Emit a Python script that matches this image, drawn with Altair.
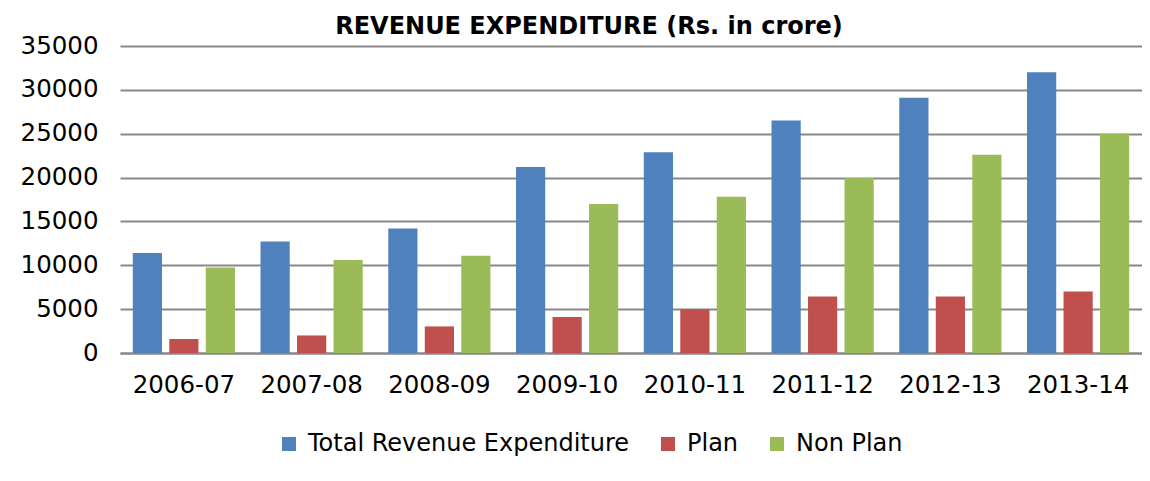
import altair as alt
import pandas as pd

years = ["2006-07", "2007-08", "2008-09", "2009-10", "2010-11", "2011-12", "2012-13", "2013-14"]
total = [11400, 12700, 14200, 21200, 22900, 26500, 29100, 32000]
plan = [1600, 2000, 3030, 4100, 5000, 6450, 6450, 7000]
nonplan = [9750, 10600, 11100, 17000, 17800, 19950, 22600, 25000]
series = ["Total Revenue Expenditure", "Plan", "Non Plan"]
colors = ["#4F81BD", "#C0504D", "#9BBB59"]

rows = []
for i, y in enumerate(years):
    for s, vals in zip(series, [total, plan, nonplan]):
        rows.append({"year": y, "series": s, "value": vals[i]})
df = pd.DataFrame(rows)

chart = alt.Chart(df).mark_bar().encode(
    x=alt.X("year:N", sort=years, title=None,
            scale=alt.Scale(paddingInner=0.2, paddingOuter=0.1),
            axis=alt.Axis(labelAngle=0, ticks=False, labelPadding=20, labelFontSize=24.5,
                          domainColor="#888888", domainWidth=2, grid=False)),
    xOffset=alt.XOffset("series:N", sort=series, scale=alt.Scale(paddingInner=0.2, paddingOuter=0)),
    y=alt.Y("value:Q", title=None,
            scale=alt.Scale(domain=[0, 35000]),
            axis=alt.Axis(values=list(range(0, 35001, 5000)), format="d", ticks=False, domain=False,
                          labelPadding=22, labelFontSize=24.5, gridColor="#888888", gridWidth=2,
                          gridOpacity=1)),
    color=alt.Color("series:N", sort=series,
                    scale=alt.Scale(domain=series, range=colors),
                    legend=alt.Legend(title=None, orient="none", direction="horizontal",
                                      legendX=157, legendY=386, symbolType="square",
                                      symbolSize=196, symbolStrokeWidth=0, labelFontSize=24,
                                      labelLimit=0, columnPadding=26, labelOffset=7)),
).properties(
    width=1022,
    height=307,
    title=alt.TitleParams("REVENUE EXPENDITURE (Rs. in crore)", fontSize=24, fontWeight="bold",
                          anchor="middle", dx=-42, offset=-6, color="#000000"),
    autosize=alt.AutoSizeParams(type="none"),
    padding={"left": 112, "top": 38, "right": 0, "bottom": 118},
).configure(
    font="DejaVu Sans",
).configure_axis(
    labelColor="#000000", labelFont="DejaVu Sans",
).configure_legend(
    labelColor="#000000", labelFont="DejaVu Sans",
).configure_view(
    stroke=None,
).configure_title(font="DejaVu Sans")

chart.save("out.html", embed_options={"renderer": "svg", "actions": False})
